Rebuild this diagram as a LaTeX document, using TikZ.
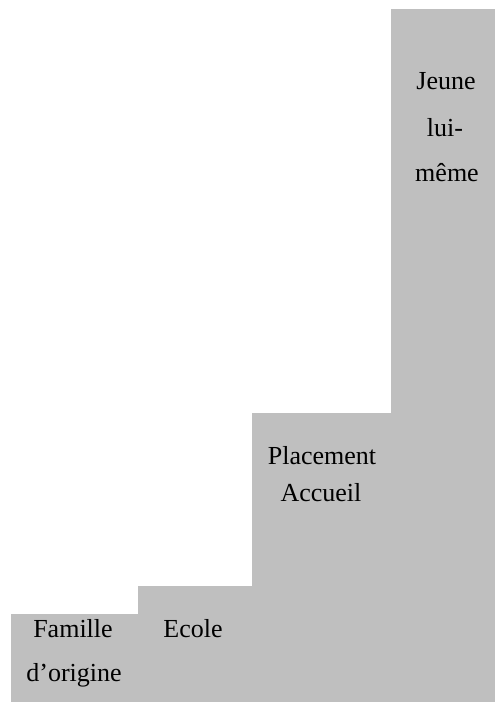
\documentclass[tikz,border=0pt]{standalone}
\usepackage{fontspec}
\setmainfont{Liberation Serif}
\usepackage{xcolor}
\usepackage{tikz}
\usetikzlibrary{positioning}
\definecolor{stepgrey}{RGB}{191,191,191}
\tikzset{bar/.style={fill=stepgrey},
         lbl/.style={anchor=base,inner sep=0pt,font=\fontsize{13}{15}\selectfont}}

\begin{document}
\begin{tikzpicture}[x=0.5pt,y=0.5pt]
        \useasboundingbox (0,0) rectangle (495,702);
        \fill[bar] (11,0) rectangle (138,88);
        \fill[bar] (138,0) rectangle (252,116);
        \fill[bar] (252,0) rectangle (391,289);
        \fill[bar] (391,0) rectangle (495,693);

        \node[lbl] (fam1) at (73,64) {Famille};
        \node[lbl] (fam2) at (74,20) {d’origine};
        \node[lbl] (ecole) at (193,64) {Ecole};
        \node[lbl] (plac1) at (322,237) {Placement};
        \node[lbl] (plac2) at (321,200) {Accueil};
        \node[lbl] (jeune1) at (446,612) {Jeune};
        \node[lbl] (jeune2) at (445,565) {lui-};
        \node[lbl] (jeune3) at (447,520) {même};
    \end{tikzpicture}
\end{document}
